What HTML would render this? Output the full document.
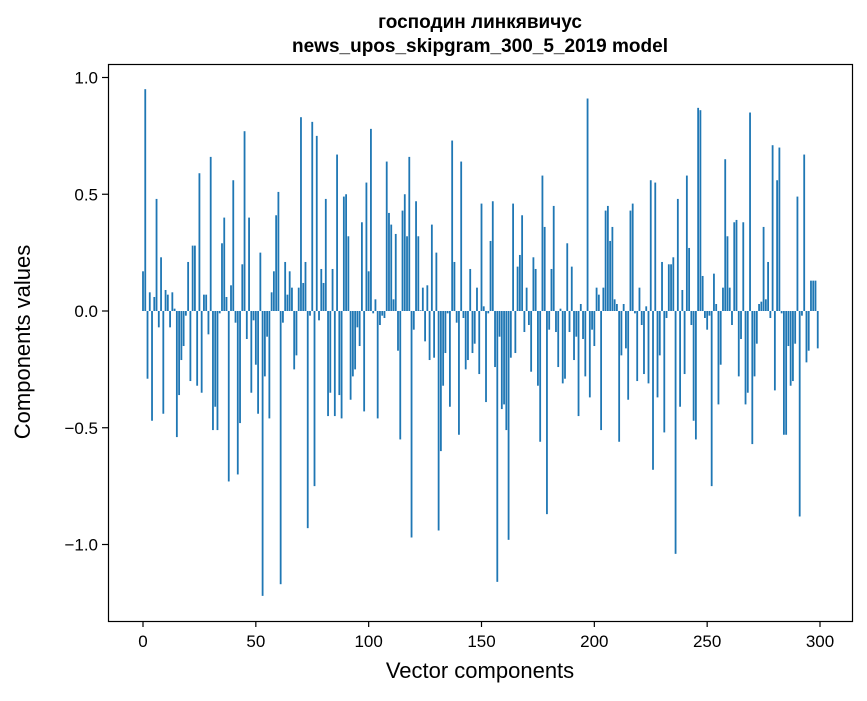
<!DOCTYPE html>
<html><head><meta charset="utf-8">
<style>
html,body{margin:0;padding:0;background:#fff;}
svg text{font-family:"Liberation Sans","DejaVu Sans",sans-serif;fill:#000;}
</style></head>
<body>
<svg id="chart" width="867" height="696" xmlns="http://www.w3.org/2000/svg">
<rect x="0" y="0" width="867" height="696" fill="#fff"/>
<text x="480" y="28" text-anchor="middle" font-size="19" font-weight="bold">господин линкявичус</text>
<text x="480" y="52" text-anchor="middle" font-size="19" font-weight="bold">news_upos_skipgram_300_5_2019 model</text>
<g id="bars"></g>
<rect x="108.5" y="64.5" width="744" height="557" fill="none" stroke="#000" stroke-width="1.2"/>
<g id="xticks"></g>
<g id="yticks"></g>
<text x="480" y="678" text-anchor="middle" font-size="22">Vector components</text>
<text x="30" y="342" text-anchor="middle" font-size="22" transform="rotate(-90 30 342)">Components values</text>
</svg>
<script>
const values = [
0.17,0.95,-0.29,0.08,-0.47,0.06,0.48,-0.07,0.23,-0.44,
0.09,0.07,-0.07,0.08,0.01,-0.54,-0.36,-0.21,-0.15,-0.02,
0.21,-0.30,0.28,0.28,-0.32,0.59,-0.35,0.07,0.07,-0.10,
0.66,-0.51,-0.41,-0.51,-0.01,0.29,0.40,0.06,-0.73,0.11,
0.56,-0.05,-0.70,-0.48,0.20,0.77,-0.12,0.40,-0.35,-0.04,
-0.23,-0.44,0.25,-1.22,-0.28,-0.11,-0.46,0.08,0.17,0.41,
0.51,-1.17,-0.05,0.21,0.07,0.17,0.10,-0.25,-0.19,0.10,
0.83,0.12,0.21,-0.93,-0.02,0.81,-0.75,0.75,-0.04,0.18,
0.12,0.48,-0.45,-0.35,0.18,-0.45,0.67,-0.36,-0.46,0.49,
0.50,0.32,-0.38,-0.28,-0.25,-0.07,-0.15,0.38,-0.43,0.55,
0.17,0.78,-0.01,0.05,-0.46,-0.06,-0.02,-0.03,0.64,0.42,
0.37,0.05,0.33,-0.17,-0.55,0.43,0.50,0.32,0.66,-0.97,
-0.08,0.47,0.32,0.003,0.10,-0.13,0.11,-0.21,0.37,-0.20,
0.25,-0.94,-0.60,-0.32,-0.18,-0.01,-0.41,0.73,0.21,-0.05,
-0.53,0.64,-0.03,-0.25,-0.21,0.18,-0.18,-0.14,0.10,-0.27,
0.46,0.02,-0.39,-0.01,0.30,0.47,-0.24,-1.16,-0.11,-0.42,
-0.40,-0.51,-0.98,-0.20,0.46,-0.18,0.19,0.24,0.41,-0.09,
0.10,-0.06,-0.26,0.23,0.18,-0.32,-0.56,0.58,0.36,-0.87,
-0.08,0.18,0.45,-0.09,-0.24,0.01,-0.31,-0.29,0.29,-0.09,
0.19,-0.21,-0.11,-0.45,0.03,-0.12,-0.28,0.91,-0.37,-0.08,
-0.15,0.10,0.07,-0.51,0.10,0.43,0.45,0.30,0.36,0.05,
0.03,-0.56,-0.19,0.03,-0.16,-0.38,0.43,0.46,-0.01,-0.30,
0.10,-0.06,-0.27,0.02,-0.31,0.56,-0.68,0.55,-0.37,-0.19,
0.21,-0.52,-0.03,0.20,0.20,0.23,-1.04,0.48,-0.41,0.09,
-0.27,0.58,0.27,-0.06,-0.47,-0.55,0.87,0.86,0.15,-0.03,
-0.08,-0.02,-0.75,0.16,0.03,-0.40,-0.23,0.10,0.65,0.32,
0.10,-0.06,0.38,0.39,-0.28,-0.12,0.38,-0.40,-0.35,0.85,
-0.57,-0.28,-0.14,0.03,0.04,0.36,0.05,0.21,-0.03,0.71,
-0.34,0.56,0.70,-0.01,-0.53,-0.53,-0.15,-0.32,-0.30,-0.14,
0.49,-0.88,-0.02,0.67,-0.22,-0.17,0.13,0.13,0.13,-0.16
];
const xTicks = [0,50,100,150,200,250,300];
const yTicks = [1.0,0.5,0.0,-0.5,-1.0];
const yTickLabels = ["1.0","0.5","0.0","\u22120.5","\u22121.0"];

const NS = "http://www.w3.org/2000/svg";
const x0 = 143, xUnit = (820 - 143) / 300;
const yZero = 311, yUnit = 233.5;
function xs(i){ return x0 + i * xUnit; }
function ys(v){ return yZero - v * yUnit; }

const barsG = document.getElementById('bars');
values.forEach(function(v, i){
  const r = document.createElementNS(NS, 'rect');
  const w = 0.8 * xUnit;
  r.setAttribute('x', xs(i) - w / 2);
  r.setAttribute('width', w);
  r.setAttribute('y', Math.min(ys(v), ys(0)));
  r.setAttribute('height', Math.abs(ys(v) - ys(0)));
  r.setAttribute('fill', '#1f77b4');
  
  
  barsG.appendChild(r);
});

const xg = document.getElementById('xticks');
xTicks.forEach(function(t){
  const l = document.createElementNS(NS, 'line');
  l.setAttribute('x1', xs(t)); l.setAttribute('x2', xs(t));
  l.setAttribute('y1', 621); l.setAttribute('y2', 627);
  l.setAttribute('stroke', '#000'); l.setAttribute('stroke-width', '1.2');
  
  
  xg.appendChild(l);
  const tx = document.createElementNS(NS, 'text');
  tx.setAttribute('x', xs(t)); tx.setAttribute('y', 647);
  tx.setAttribute('text-anchor', 'middle'); tx.setAttribute('font-size', '17');
  tx.textContent = String(t);
  
  
  xg.appendChild(tx);
});

const yg = document.getElementById('yticks');
yTicks.forEach(function(t, k){
  const l = document.createElementNS(NS, 'line');
  l.setAttribute('x1', 102); l.setAttribute('x2', 108.5);
  l.setAttribute('y1', ys(t)); l.setAttribute('y2', ys(t));
  l.setAttribute('stroke', '#000'); l.setAttribute('stroke-width', '1.2');
  
  
  yg.appendChild(l);
  const tx = document.createElementNS(NS, 'text');
  tx.setAttribute('x', 98); tx.setAttribute('y', ys(t) + 6);
  tx.setAttribute('text-anchor', 'end'); tx.setAttribute('font-size', '17');
  tx.textContent = yTickLabels[k];
  
  
  yg.appendChild(tx);
});
</script>
</body></html>
